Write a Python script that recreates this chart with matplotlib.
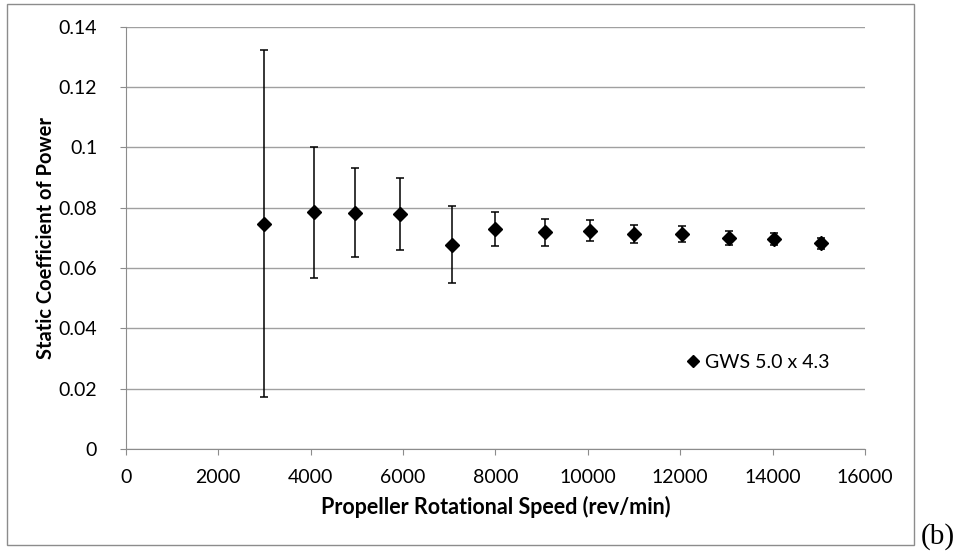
import matplotlib
matplotlib.use("Agg")
import matplotlib.pyplot as plt
from matplotlib.patches import Rectangle
from matplotlib.lines import Line2D

# propeller speed (rev/min) and static coefficient of power
speed = [3000, 4080, 4970, 5930, 7070, 8000, 9070, 10040, 11000, 12040, 13060, 14030, 15050]
cp = [0.0747, 0.0785, 0.0783, 0.0779, 0.0677, 0.0729, 0.0718, 0.0724, 0.0713, 0.0713, 0.0700, 0.0696, 0.0682]
cp_err = [0.0576, 0.0217, 0.0147, 0.0120, 0.0128, 0.0057, 0.00455, 0.0036, 0.0030, 0.00275, 0.00225, 0.0021, 0.00185]

x_ticks = [0, 2000, 4000, 6000, 8000, 10000, 12000, 14000, 16000]
y_ticks = [0, 0.02, 0.04, 0.06, 0.08, 0.1, 0.12, 0.14]
y_labels = ["0", "0.02", "0.04", "0.06", "0.08", "0.1", "0.12", "0.14"]
series_name = 'GWS 5.0 x 4.3'

plt.rcParams['font.family'] = ['Lato', 'DejaVu Sans']

W, H = 964, 554
fig = plt.figure(figsize=(W / 100, H / 100), dpi=100)
ax = fig.add_axes([125.7 / W, 1 - 449 / H, (865 - 125.7) / W, (449 - 26.7) / H])

# outer chart frame
fig.patches.append(Rectangle((7 / W, 1 - 545 / H), (914 - 7) / W, (545 - 4.3) / H,
                             transform=fig.transFigure, fill=False, edgecolor='#8c8c8c', lw=1))

ax.errorbar(speed, cp, yerr=cp_err, fmt='D', color='black', ms=7.5, ecolor='black',
            elinewidth=1.1, capsize=2.6, capthick=1.1, zorder=3)

ax.set_xlim(0, 16000)
ax.set_ylim(0, 0.14)
ax.set_xticks(x_ticks)
ax.set_yticks(y_ticks)
ax.set_yticklabels(y_labels)
ax.grid(axis='y', color='#a0a0a0', lw=1)
ax.set_axisbelow(True)
for s in ['top', 'right']:
    ax.spines[s].set_visible(False)
for s in ['left', 'bottom']:
    ax.spines[s].set_color('#8c8c8c')
ax.tick_params(axis='both', colors='#8c8c8c', labelcolor='black', labelsize=14, length=4.5)
ax.tick_params(axis='x', pad=10)
ax.tick_params(axis='y', pad=16)

ax.set_xlabel('Propeller Rotational Speed (rev/min)', fontsize=15.5, fontweight='bold', labelpad=7)
ax.set_ylabel('Static Coefficient of Power', fontsize=14.5, fontweight='bold', labelpad=2)

handle = Line2D([], [], marker='D', color='black', ls='none', ms=6.5)
ax.legend(handles=[handle], labels=[series_name], loc='center left',
          bbox_to_anchor=(683 / W, 1 - 362.7 / H), bbox_transform=fig.transFigure,
          frameon=False, fontsize=14, handlelength=1.0, handletextpad=0.13,
          borderpad=0, borderaxespad=0)

fig.text(921 / W, 1 - 537 / H, '(b)', fontsize=21, family='Liberation Serif', va='center')

fig.savefig('out.png', dpi=100)
